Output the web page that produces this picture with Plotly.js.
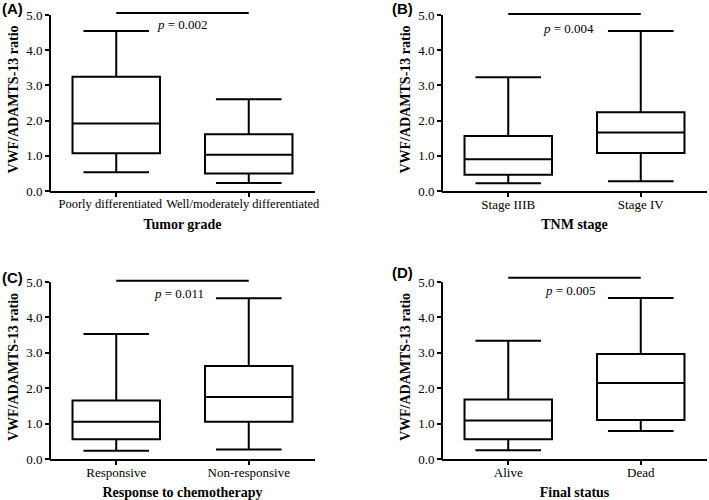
<!DOCTYPE html>
<html><head><meta charset="utf-8">
<script src="https://cdn.plot.ly/plotly-3.0.1.min.js"></script>
<style>html,body{margin:0;padding:0;background:#fff}</style>
</head><body><div id="chart" style="width:709px;height:500px"></div>
<script>
// ---- data ----
const panelLabels = ['(A)', '(B)', '(C)', '(D)'];
const xTitles = ['Tumor grade', 'TNM stage', 'Response to chemotherapy', 'Final status'];
const yTitle = 'VWF/ADAMTS-13 ratio';

const categoriesA = ['Poorly differentiated', 'Well/moderately differentiated'];
const categoriesB = ['Stage IIIB', 'Stage IV'];
const categoriesC = ['Responsive', 'Non-responsive'];
const categoriesD = ['Alive', 'Dead'];

const minA = [0.53, 0.23], q1A = [1.07, 0.50], medA = [1.92, 1.03], q3A = [3.25, 1.61], maxA = [4.55, 2.61];
const minB = [0.22, 0.28], q1B = [0.46, 1.08], medB = [0.90, 1.66], q3B = [1.56, 2.24], maxB = [3.23, 4.55];
const minC = [0.23, 0.27], q1C = [0.56, 1.05], medC = [1.05, 1.75], q3C = [1.65, 2.63], maxC = [3.53, 4.54];
const minD = [0.25, 0.79], q1D = [0.56, 1.10], medD = [1.09, 2.15], q3D = [1.68, 2.97], maxD = [3.34, 4.55];

const pValues = ['0.002', '0.004', '0.011', '0.005'];
const pLineY = [5.06, 5.03, 5.04, 5.12];
const yTickVals = [0, 1, 2, 3, 4, 5];

// ---- build ----
const cats = [categoriesA, categoriesB, categoriesC, categoriesD];
const mins = [minA, minB, minC, minD], q1s = [q1A, q1B, q1C, q1D], meds = [medA, medB, medC, medD],
      q3s = [q3A, q3B, q3C, q3D], maxs = [maxA, maxB, maxC, maxD];

const serif = 'Liberation Serif, Times New Roman, serif';
const xDomains = [[0.0705, 0.4443], [0.6234, 0.9972], [0.0705, 0.4443], [0.6234, 0.9972]];
const yDomains = [[0.618, 0.984], [0.618, 0.984], [0.082, 0.45], [0.082, 0.45]];
const pTextX = [0.5, 0.455, 0.47, 0.47];
const pTextY = [4.72, 4.62, 4.68, 4.77];
const labelPos = [[0, 0.984], [0.55, 0.984], [0, 0.446], [0.55, 0.456]];
const xTickSize = [12.5, 13, 13, 13];
const xTickShift = [-6, 0, 0, 0];

const traces = [], layout = {
  width: 709, height: 500, margin: {l: 0, r: 0, t: 0, b: 0},
  paper_bgcolor: '#fff', plot_bgcolor: '#fff', showlegend: false,
  annotations: [], shapes: []
};

for (let i = 0; i < 4; i++) {
  const sfx = i === 0 ? '' : String(i + 1);
  const xa = 'x' + sfx, ya = 'y' + sfx;
  traces.push({
    type: 'box', x: cats[i], q1: q1s[i], median: meds[i], q3: q3s[i],
    lowerfence: mins[i], upperfence: maxs[i],
    boxpoints: false, width: 0.66, whiskerwidth: 0.75,
    line: {color: '#000', width: 2}, fillcolor: '#fff',
    xaxis: xa, yaxis: ya, hoverinfo: 'skip'
  });
  traces.push({
    type: 'scatter', mode: 'lines', x: cats[i], y: [pLineY[i], pLineY[i]],
    line: {color: '#000', width: 2}, xaxis: xa, yaxis: ya, hoverinfo: 'skip'
  });
  layout['xaxis' + sfx] = {
    domain: xDomains[i], anchor: ya, type: 'category', range: [-0.5, 1.5],
    showline: true, linecolor: '#000', linewidth: 2, ticks: 'outside', ticklen: 4,
    tickwidth: 2, tickcolor: '#000', showgrid: false, zeroline: false, tickangle: 0,
    ticklabelstandoff: -4, ticklabelshift: xTickShift[i],
    tickfont: {family: serif, size: xTickSize[i], color: '#000'},
    title: {text: xTitles[i], font: {family: serif, size: 14, color: '#000', weight: 'bold'}, standoff: 9}
  };
  layout['yaxis' + sfx] = {
    domain: yDomains[i], anchor: xa, range: [0, 5.2],
    showline: false, ticks: 'outside', ticklen: 4, tickwidth: 2, tickcolor: '#000',
    tickvals: yTickVals, tickformat: '.1f', showgrid: false, zeroline: false,
    tickfont: {family: serif, size: 13, color: '#000'},
    title: {text: yTitle, font: {family: serif, size: 14, color: '#000', weight: 'bold'}, standoff: 4}
  };
  layout.shapes.push({
    type: 'line', xref: xa + ' domain', yref: ya + ' domain',
    x0: 0, x1: 0, y0: -0.006, y1: 5 / 5.2,
    line: {color: '#000', width: 2}
  });
  layout.annotations.push({
    xref: xa, yref: ya, x: pTextX[i], y: pTextY[i], showarrow: false,
    text: '<i>p</i> = ' + pValues[i], font: {family: serif, size: 13, color: '#000'}
  });
  layout.annotations.push({
    xref: 'paper', yref: 'paper', x: labelPos[i][0], y: labelPos[i][1],
    xanchor: 'left', yanchor: 'middle', showarrow: false, text: '<b>' + panelLabels[i] + '</b>',
    font: {family: 'Liberation Sans, Arial, sans-serif', size: 15, color: '#000'}
  });
}

Plotly.newPlot('chart', traces, layout, {displayModeBar: false, staticPlot: true});
</script></body></html>
